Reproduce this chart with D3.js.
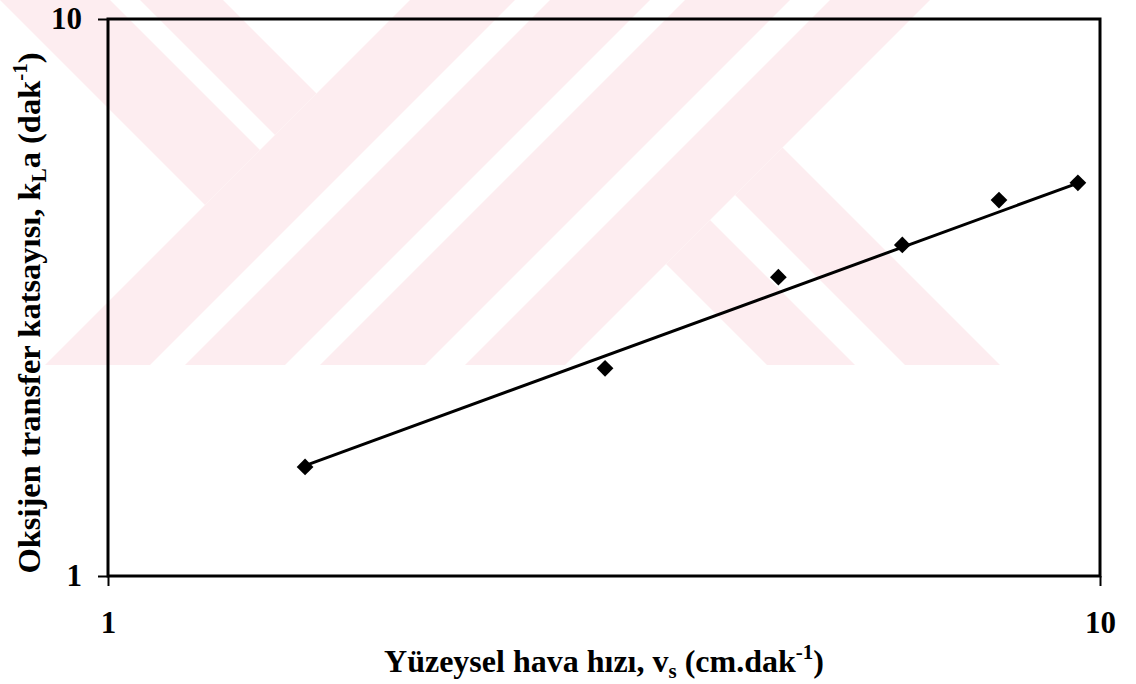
<!DOCTYPE html>
<html>
<head>
<meta charset="utf-8">
<script src="https://d3js.org/d3.v7.min.js"></script>
<style>
  body { margin:0; background:#fff; }
  text { font-family: "Liberation Serif", "Times New Roman", serif; font-weight: bold; fill:#000; }
</style>
</head>
<body>
<script>
// measured points
var airSpeed = [1.58, 3.17, 4.74, 6.32, 7.91, 9.50];   // v_s (cm/dak)
var kLa      = [1.57, 2.36, 3.44, 3.93, 4.73, 5.08];   // k_L a (1/dak)
// power trend line  y = a * x^b
var trendA = 1.172, trendB = 0.651;
var xTicks = [1, 10], yTicks = [1, 10];

var W = 1136, H = 684;
var margin = {top: 19, right: 36, bottom: 108, left: 108};
var width = W - margin.left - margin.right,
    height = H - margin.top - margin.bottom;

var svg = d3.select("body").append("svg")
    .attr("width", W).attr("height", H);

// faint background watermark (scanned page logo)
var wm = [
  [[0,0],[110,0],[260,150],[205,205]],
  [[140,0],[223,0],[316.5,93.5],[275,135]],
  [[410,0],[515,0],[150,365],[45,365]],
  [[550,0],[650,0],[285,365],[185,365]],
  [[685,0],[790,0],[425,365],[320,365]],
  [[830,0],[930,0],[565,365],[465,365]],
  [[666,264],[710,220],[855,365],[767,365]],
  [[735,195],[782.5,147.5],[1000,365],[905,365]]
];
svg.append("g").selectAll("polygon").data(wm).enter().append("polygon")
    .attr("points", function (d) { return d.join(" "); })
    .attr("fill", "#fdedf0");

var g = svg.append("g")
    .attr("transform", "translate(" + margin.left + "," + margin.top + ")");

var x = d3.scaleLog().domain([1, 10]).range([0, width]);
var y = d3.scaleLog().domain([1, 10]).range([height, 0]);

var data = airSpeed.map(function (v, i) { return {x: v, y: kLa[i]}; });

// axes
var xAxis = d3.axisBottom(x).tickValues(xTicks).tickFormat(d3.format("d"))
    .tickSize(10).tickPadding(25);
var yAxis = d3.axisLeft(y).tickValues(yTicks).tickFormat(d3.format("d"))
    .tickSize(10).tickPadding(16);

var gx = g.append("g").attr("transform", "translate(0," + height + ")").call(xAxis);
var gy = g.append("g").call(yAxis);
[gx, gy].forEach(function (a) {
  a.select(".domain").remove();
  a.selectAll(".tick line").attr("stroke", "#000").attr("stroke-width", 2);
  a.selectAll(".tick text").attr("font-size", 31)
    .style("font-family", '"Liberation Serif", serif').style("font-weight", "bold");
});

// frame
g.append("rect")
    .attr("width", width).attr("height", height)
    .attr("fill", "none").attr("stroke", "#000").attr("stroke-width", 3);

// trend line
var xs = d3.extent(airSpeed);
var trend = xs.map(function (v) { return {x: v, y: trendA * Math.pow(v, trendB)}; });
g.append("path").datum(trend)
    .attr("d", d3.line().x(function (d) { return x(d.x); }).y(function (d) { return y(d.y); }))
    .attr("fill", "none").attr("stroke", "#000").attr("stroke-width", 3);

// markers
g.selectAll(".pt").data(data).enter().append("path")
    .attr("class", "pt")
    .attr("d", d3.symbol(d3.symbolSquare, 140))
    .attr("transform", function (d) { return "translate(" + x(d.x) + "," + y(d.y) + ") rotate(45)"; })
    .attr("fill", "#000");

// axis titles
var xt = svg.append("text")
    .attr("x", margin.left + width / 2).attr("y", 672)
    .attr("text-anchor", "middle").attr("font-size", 32);
xt.append("tspan").text("Yüzeysel hava hızı, v");
xt.append("tspan").attr("font-size", 21).attr("dy", 6).text("s");
xt.append("tspan").attr("dy", -6).text(" (cm.dak");
xt.append("tspan").attr("font-size", 21).attr("dy", -13).text("-1");
xt.append("tspan").attr("dy", 13).text(")");

var yt = svg.append("text")
    .attr("transform", "translate(40,313) rotate(-90)")
    .attr("text-anchor", "middle").attr("font-size", 32.5);
yt.append("tspan").text("Oksijen transfer katsayısı, k");
yt.append("tspan").attr("font-size", 21).attr("dy", 6).text("L");
yt.append("tspan").attr("dy", -6).text("a (dak");
yt.append("tspan").attr("font-size", 21).attr("dy", -13).text("-1");
yt.append("tspan").attr("dy", 13).text(")");
</script>
</body>
</html>
